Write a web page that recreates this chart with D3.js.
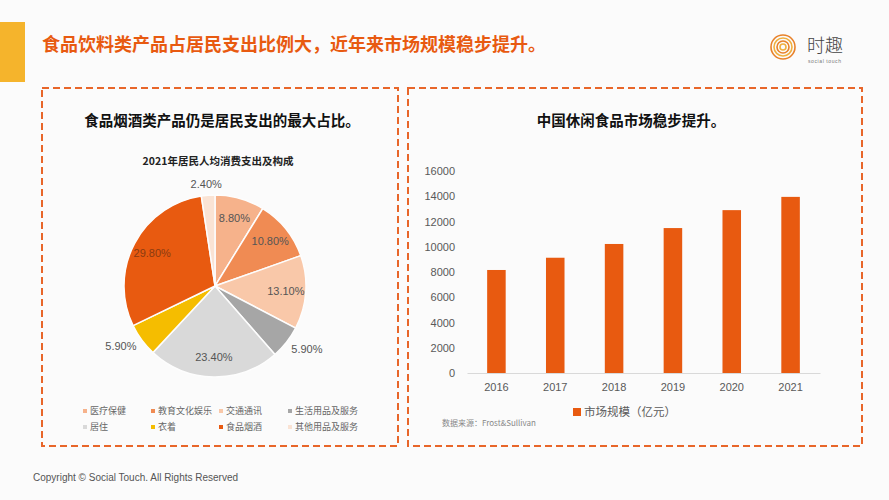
<!DOCTYPE html>
<html>
<head>
<meta charset="utf-8">
<script src="https://cdn.jsdelivr.net/npm/d3@7"></script>
<style>
  html, body { margin: 0; padding: 0; background: #fbfbfb; }
  svg { display: block; font-family: "Noto Sans CJK SC", "Liberation Sans", Arial, sans-serif; }
</style>
</head>
<body>
<div id="app"></div>
<script>
// 饼图数据（顺时针，从12点方向开始）
const pieCategories = ['医疗保健', '教育文化娱乐', '交通通讯', '生活用品及服务', '居住', '衣着', '食品烟酒', '其他用品及服务']
const pieValues = [8.8, 10.8, 13.1, 5.9, 23.4, 5.9, 29.8, 2.4]
const pieColors = ['#f6b28b', '#f08b53', '#f9c8a9', '#a6a6a6', '#d9d9d9', '#f5bd00', '#e85a10', '#fae3d4']
const pieOutside = [false, false, false, true, false, true, false, true] // 小扇区标签放外面

// 柱状图数据
const years = ['2016', '2017', '2018', '2019', '2020', '2021']
const marketSize = [8160, 9130, 10220, 11480, 12900, 13950]
const yTicks = [0, 2000, 4000, 6000, 8000, 10000, 12000, 14000, 16000]

const W = 889, H = 500
const orange = '#e85a10'

const svg = d3.select('#app')
  .append('svg')
  .attr('width', W)
  .attr('height', H)

svg.append('rect').attr('width', W).attr('height', H).attr('fill', '#fbfbfb')

// 左上角黄色条 + 大标题
svg.append('rect')
  .attr('x', 0).attr('y', 22)
  .attr('width', 25).attr('height', 60)
  .attr('fill', '#f5b42c')
svg.append('text')
  .attr('x', 42).attr('y', 51)
  .attr('font-size', 18)
  .attr('font-weight', 'bold')
  .attr('fill', orange)
  .text('食品饮料类产品占居民支出比例大，近年来市场规模稳步提升。')

// logo
const logo = svg.append('g').attr('transform', 'translate(783, 47)')
;[12, 9, 6, 3].forEach((r, i) => {
  logo.append('circle')
    .attr('r', r)
    .attr('fill', 'none')
    .attr('stroke', i % 2 ? '#f0b040' : '#e8822a')
    .attr('stroke-width', 1.6)
})
svg.append('text')
  .attr('x', 807).attr('y', 52)
  .attr('font-size', 18)
  .attr('fill', '#444')
  .attr('font-weight', 300)
  .text('时趣')
svg.append('text')
  .attr('x', 808).attr('y', 63)
  .attr('font-size', 5)
  .attr('fill', '#777')
  .attr('letter-spacing', 0.6)
  .attr('font-family', 'Liberation Sans, Arial')
  .text('social touch')

// 虚线面板
;[[42, 88, 356, 358], [408, 88, 454, 358]].forEach(([x, y, w, h]) => {
  svg.append('rect')
    .attr('x', x).attr('y', y)
    .attr('width', w).attr('height', h)
    .attr('fill', 'none')
    .attr('stroke', '#e8662a')
    .attr('stroke-width', 2)
    .attr('stroke-dasharray', '7,4')
})

// 面板标题
svg.append('text')
  .attr('x', 222).attr('y', 126)
  .attr('text-anchor', 'middle')
  .attr('font-size', 14.5)
  .attr('font-weight', 'bold')
  .attr('fill', '#111')
  .text('食品烟酒类产品仍是居民支出的最大占比。')
svg.append('text')
  .attr('x', 631).attr('y', 126)
  .attr('text-anchor', 'middle')
  .attr('font-size', 14.5)
  .attr('font-weight', 'bold')
  .attr('fill', '#111')
  .text('中国休闲食品市场稳步提升。')

// ---------- 饼图 ----------
svg.append('text')
  .attr('x', 218).attr('y', 165)
  .attr('text-anchor', 'middle')
  .attr('font-size', 10.5)
  .attr('font-weight', 'bold')
  .attr('fill', '#222')
  .text('2021年居民人均消费支出及构成')

const R = 91
const pieG = svg.append('g').attr('transform', 'translate(215, 286)')
const pie = d3.pie().sort(null)
const arcs = pie(pieValues)
const arc = d3.arc().innerRadius(0).outerRadius(R)
const labelArcIn = d3.arc().innerRadius(R * 0.78).outerRadius(R * 0.78)
const labelArcOut = d3.arc().innerRadius(R * 1.12).outerRadius(R * 1.12)

pieG.selectAll('path')
  .data(arcs)
  .enter()
  .append('path')
  .attr('d', arc)
  .attr('fill', (d, i) => pieColors[i])
  .attr('stroke', '#fdfdfd')
  .attr('stroke-width', 1.5)

pieG.selectAll('text')
  .data(arcs)
  .enter()
  .append('text')
  .attr('transform', (d, i) => {
    if (!pieOutside[i]) return `translate(${labelArcIn.centroid(d)})`
    const [cx, cy] = labelArcOut.centroid(d)
    const mid = (d.startAngle + d.endAngle) / 2
    return `translate(${cx + Math.sin(mid) * 15}, ${cy})` // 外部标签按方向再推开半个字宽
  })
  .attr('text-anchor', 'middle')
  .attr('dy', '0.35em')
  .attr('font-size', 11)
  .attr('font-family', 'Liberation Sans, Arial')
  .attr('fill', (d, i) => i === 6 ? '#8a3a10' : '#555')
  .text(d => d.value.toFixed(2) + '%')

// 饼图图例
const legendCols = [85, 153, 221, 290]
const legendRows = [411, 427]
const legend = svg.append('g')
pieCategories.forEach((c, i) => {
  const x = legendCols[i % 4], y = legendRows[Math.floor(i / 4)]
  legend.append('rect')
    .attr('x', x - 2).attr('y', y - 2)
    .attr('width', 4).attr('height', 4)
    .attr('fill', pieColors[i])
  legend.append('text')
    .attr('x', x + 5).attr('y', y)
    .attr('dy', '0.35em')
    .attr('font-size', 9)
    .attr('fill', '#666')
    .text(c)
})

// ---------- 柱状图 ----------
const x = d3.scaleBand()
  .domain(years)
  .range([467, 820])
  .paddingInner(0.685)
  .paddingOuter(0.3425)
const y = d3.scaleLinear()
  .domain([0, 16000])
  .range([373, 171])

const barG = svg.append('g')
barG.selectAll('rect')
  .data(marketSize)
  .enter()
  .append('rect')
  .attr('x', (d, i) => x(years[i]))
  .attr('y', d => y(d))
  .attr('width', x.bandwidth())
  .attr('height', d => y(0) - y(d))
  .attr('fill', orange)

const yAxis = svg.append('g')
  .attr('transform', 'translate(467, 0)')
  .call(d3.axisLeft(y).tickValues(yTicks).tickSize(0).tickPadding(12).tickFormat(d3.format('d')))
yAxis.select('.domain').remove()

const xAxis = svg.append('g')
  .attr('transform', `translate(0, ${y(0)})`)
  .call(d3.axisBottom(x).tickSize(0).tickPadding(10))
xAxis.select('.domain').attr('stroke', '#d9d9d9')

svg.selectAll('.tick text')
  .attr('font-size', 11)
  .attr('font-family', 'Liberation Sans, Arial')
  .attr('fill', '#595959')

// 柱状图图例
svg.append('rect')
  .attr('x', 573).attr('y', 408)
  .attr('width', 8).attr('height', 8)
  .attr('fill', orange)
svg.append('text')
  .attr('x', 584).attr('y', 412)
  .attr('dy', '0.35em')
  .attr('font-size', 11.5)
  .attr('fill', '#595959')
  .text('市场规模（亿元）')

svg.append('text')
  .attr('x', 442).attr('y', 426)
  .attr('font-size', 8)
  .attr('fill', '#888')
  .text('数据来源：Frost&Sullivan')

// 版权
svg.append('text')
  .attr('x', 33).attr('y', 481)
  .attr('font-size', 10)
  .attr('font-family', 'Liberation Sans, Arial')
  .attr('fill', '#555')
  .text('Copyright © Social Touch. All Rights Reserved')
</script>
</body>
</html>
